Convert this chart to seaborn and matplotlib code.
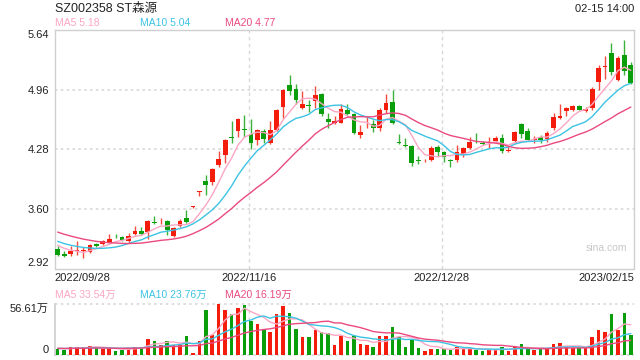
import numpy as np
import pandas as pd
import matplotlib
matplotlib.use("Agg")
import matplotlib.pyplot as plt
import seaborn as sns

# ---------------- data ----------------
title = "SZ002358 ST森源"
stamp = "02-15 14:00"
date_labels = ["2022/09/28", "2022/11/16", "2022/12/28", "2023/02/15"]
date_index = [0, 30, 60, 89]
price_ticks = [2.92, 3.60, 4.28, 4.96, 5.64]
vol_top = 56.61  # 万
ma_names = ["MA5", "MA10", "MA20"]
price_ma_last = [5.18, 5.04, 4.77]
vol_ma_last = [33.54, 23.76, 16.19]

opens = [3.147, 3.090, 3.082, 3.124, 3.120, 3.109, 3.203, 3.196, 3.222, 3.294,
         3.279, 3.230, 3.317, 3.351, 3.335, 3.445, 3.445, 3.460, 3.286, 3.400,
         3.494, 3.619, 3.789, 3.917, 3.910, 4.099, 4.216, 4.424, 4.488, 4.507,
         4.450, 4.382, 4.484, 4.348, 4.499, 4.764, 5.017, 4.968, 4.748, 4.782,
         4.828, 4.915, 4.628, 4.582, 4.582, 4.733, 4.677, 4.442, 4.563, 4.563,
         4.518, 4.722, 4.820, 4.363, 4.322, 4.318, 4.152, 4.152, 4.155, 4.310,
         4.254, 4.152, 4.155, 4.231, 4.299, 4.367, 4.348, 4.359, 4.374, 4.412,
         4.257, 4.374, 4.571, 4.488, 4.382, 4.420, 4.401, 4.526, 4.631, 4.714,
         4.733, 4.775, 4.714, 4.745, 5.043, 5.221, 5.376, 5.073, 5.353, 5.243]
highs = [3.173, 3.116, 3.177, 3.230, 3.165, 3.203, 3.215, 3.249, 3.309, 3.317,
         3.290, 3.328, 3.400, 3.392, 3.475, 3.517, 3.498, 3.468, 3.392, 3.479,
         3.589, 3.630, 3.802, 3.989, 4.065, 4.257, 4.393, 4.605, 4.631, 4.669,
         4.628, 4.507, 4.507, 4.601, 4.741, 4.968, 5.130, 5.028, 4.941, 4.839,
         4.998, 4.922, 4.688, 4.658, 4.798, 4.798, 4.696, 4.556, 4.647, 4.609,
         4.752, 4.911, 4.960, 4.458, 4.412, 4.329, 4.204, 4.167, 4.318, 4.329,
         4.261, 4.167, 4.329, 4.306, 4.420, 4.465, 4.374, 4.420, 4.431, 4.450,
         4.318, 4.488, 4.582, 4.518, 4.431, 4.439, 4.488, 4.696, 4.798, 4.764,
         4.790, 4.782, 4.767, 4.987, 5.236, 5.338, 5.489, 5.338, 5.523, 5.274]
lows = [3.060, 3.052, 3.063, 3.079, 3.041, 3.097, 3.162, 3.184, 3.211, 3.267,
        3.230, 3.215, 3.305, 3.305, 3.252, 3.426, 3.430, 3.298, 3.279, 3.392,
        3.434, 3.615, 3.743, 3.759, 3.876, 4.083, 4.121, 4.348, 4.424, 4.424,
        4.280, 4.325, 4.356, 4.337, 4.488, 4.639, 4.903, 4.798, 4.741, 4.703,
        4.752, 4.658, 4.526, 4.563, 4.575, 4.669, 4.458, 4.405, 4.526, 4.480,
        4.488, 4.696, 4.571, 4.344, 4.310, 4.087, 4.110, 4.140, 4.148, 4.204,
        4.129, 4.080, 4.140, 4.193, 4.280, 4.348, 4.329, 4.299, 4.356, 4.242,
        4.254, 4.367, 4.405, 4.382, 4.356, 4.348, 4.363, 4.495, 4.620, 4.658,
        4.714, 4.722, 4.703, 4.733, 4.960, 5.085, 5.130, 5.054, 5.130, 5.024]
closes = [3.071, 3.060, 3.116, 3.135, 3.125, 3.184, 3.173, 3.237, 3.256, 3.286,
          3.249, 3.290, 3.351, 3.317, 3.460, 3.437, 3.453, 3.354, 3.381, 3.464,
          3.449, 3.626, 3.800, 3.872, 4.053, 4.167, 4.386, 4.412, 4.620, 4.499,
          4.348, 4.495, 4.393, 4.495, 4.733, 4.960, 4.941, 4.839, 4.801, 4.775,
          4.903, 4.677, 4.590, 4.601, 4.741, 4.684, 4.461, 4.480, 4.571, 4.518,
          4.733, 4.809, 4.582, 4.356, 4.314, 4.118, 4.144, 4.159, 4.291, 4.254,
          4.186, 4.144, 4.250, 4.291, 4.367, 4.359, 4.340, 4.367, 4.405, 4.261,
          4.265, 4.480, 4.450, 4.390, 4.401, 4.382, 4.469, 4.647, 4.662, 4.745,
          4.775, 4.733, 4.741, 4.968, 5.206, 5.228, 5.157, 5.319, 5.168, 5.032]
# volume, 万股
volumes = [6.8, 5.7, 8.7, 9.4, 8.7, 10.2, 8.7, 6.4, 6.4, 4.9,
           5.7, 8.3, 9.4, 9.4, 18.1, 15.9, 11.3, 15.9, 11.3, 11.3,
           21.5, 2.6, 15.9, 49.8, 22.6, 56.61, 49.8, 45.3, 52.1, 56.0,
           37.7, 34.0, 29.1, 25.3, 45.3, 54.0, 46.4, 29.4, 19.6, 20.0,
           28.3, 25.3, 24.5, 11.3, 20.8, 15.1, 21.5, 12.5, 11.3, 9.1,
           20.8, 21.5, 30.9, 19.6, 9.4, 18.1, 8.3, 4.9, 7.2, 7.2,
           6.4, 5.7, 9.4, 6.8, 6.8, 5.7, 4.9, 5.7, 5.7, 9.1,
           4.9, 9.4, 12.5, 6.4, 5.7, 7.2, 7.2, 12.5, 13.2, 9.4,
           7.5, 7.5, 7.5, 20.4, 27.2, 26.0, 45.3, 27.2, 46.4, 22.6]
# sessions before the visible window (needed for the moving averages at the left edge)
prev_closes = [3.55, 3.52, 3.50, 3.47, 3.45, 3.42, 3.40, 3.38, 3.36, 3.35,
               3.32, 3.30, 3.27, 3.25, 3.24, 3.23, 3.22, 3.20, 3.20]
prev_volumes = [8.1, 7.4, 6.9, 7.8, 8.4, 7.2, 6.8, 7.6, 7.9, 7.1,
                6.6, 7.3, 8.0, 7.7, 6.9, 7.4, 7.8, 7.0, 7.5]
ma_windows = [5, 10, 20]

# ---------------- style ----------------
sns.set_theme(style="white")
plt.rcParams["font.family"] = ["Liberation Sans", "Noto Sans CJK SC", "DejaVu Sans"]

RED = "#f41d0b"
GREEN = "#0a9e0a"
MA_COLORS = ["#fba6c4", "#3cc3e3", "#ea4a7f"]
GRID = "#d8d8d8"
SPINE = "#cfcfcf"
TXT = "#222222"

n = len(closes)
idx = np.arange(n)
df = pd.DataFrame({"i": idx, "open": opens, "high": highs, "low": lows,
                   "close": closes, "vol": volumes})
up = df["close"] >= df["open"]
colors = np.where(up, RED, GREEN)

full_c = pd.Series(prev_closes + closes)
full_v = pd.Series(prev_volumes + volumes)
k = len(prev_closes)
for w in ma_windows:
    df[f"ma{w}"] = full_c.rolling(w).mean().values[k:]
    df[f"vma{w}"] = full_v.rolling(w).mean().values[k:]

W, H = 640, 360
fig = plt.figure(figsize=(W / 100, H / 100), dpi=100)
fig.patch.set_facecolor("white")
L, R = 54.5, 634.0
ax = fig.add_axes([L / W, 1 - 268.5 / H, (R - L) / W, (268.5 - 30) / H])
axv = fig.add_axes([L / W, 1 - 355 / H, (R - L) / W, (355 - 304) / H])

xlim = (-0.5, n - 0.5)
grid_x = [date_index[1] - 0.35, date_index[2] - 0.35]

# ---------------- price panel ----------------
ax.vlines(df["i"], df["low"], df["high"], colors=colors, linewidth=1.0, alpha=0.8, zorder=3)
body_h = np.maximum((df["close"] - df["open"]).abs(), 0.009)
body_b = np.minimum(df["open"], df["close"])
ax.bar(df["i"], body_h, bottom=body_b, width=0.74, color=colors, linewidth=0, zorder=4)
for w, c in zip(ma_windows, MA_COLORS):
    sns.lineplot(x=df["i"], y=df[f"ma{w}"], ax=ax, color=c, linewidth=1.0, zorder=5)

ax.set_xlim(*xlim)
ax.set_ylim(price_ticks[0], price_ticks[-1])
for y in price_ticks[1:-1]:
    ax.axhline(y, color=GRID, linewidth=1.2, linestyle=(0, (1.5, 2.0)), zorder=1)
for gx in grid_x:
    ax.axvline(gx, color=GRID, linewidth=1.0, linestyle=(0, (2.5, 2.5)), zorder=1)
ax.set_yticks(price_ticks)
ax.set_yticklabels([f"{t:.2f}" for t in price_ticks])
ax.tick_params(axis="y", length=0, pad=4, labelsize=8, labelcolor=TXT)
tl = ax.get_yticklabels()
tl[0].set_va("bottom")
tl[-1].set_va("top")
xt = [xlim[0], grid_x[0], grid_x[1], xlim[1]]
ax.set_xticks(xt)
ax.set_xticklabels(date_labels)
ax.tick_params(axis="x", length=0, pad=3, labelsize=8, labelcolor=TXT)
xl = ax.get_xticklabels()
xl[0].set_ha("left")
xl[-1].set_ha("right")
ax.set_xlabel("")
ax.set_ylabel("")
for s in ax.spines.values():
    s.set_color(SPINE)
    s.set_linewidth(1.0)
ax.text(0.988, 0.085, "sina.com", transform=ax.transAxes, ha="right", va="center",
        fontsize=7.5, color="#c8c8c8")

# ---------------- volume panel ----------------
axv.bar(df["i"], df["vol"], width=0.55, color=colors, linewidth=0, zorder=3)
for w, c in zip(ma_windows, MA_COLORS):
    sns.lineplot(x=df["i"], y=df[f"vma{w}"], ax=axv, color=c, linewidth=1.0, zorder=4)
axv.set_xlim(*xlim)
axv.set_ylim(0, vol_top)
axv.axhline(vol_top, color=GRID, linewidth=1.2, linestyle=(0, (1.5, 2.0)), zorder=1, clip_on=False)
axv.axhline(0, color=GRID, linewidth=1.2, linestyle=(0, (1.5, 2.0)), zorder=1, clip_on=False)
for gx in grid_x:
    axv.axvline(gx, color=GRID, linewidth=1.0, linestyle=(0, (2.5, 2.5)), zorder=1)
axv.set_yticks([0, vol_top])
axv.set_yticklabels(["0", f"{vol_top:.2f}万"])
axv.tick_params(axis="y", length=0, pad=4, labelsize=8, labelcolor=TXT)
vl = axv.get_yticklabels()
vl[0].set_va("bottom")
vl[1].set_va("top")
axv.set_xticks([])
axv.set_xlabel("")
axv.set_ylabel("")
for name, s in axv.spines.items():
    s.set_visible(name == "left")
    s.set_color(SPINE)

# ---------------- texts ----------------
fig.text(55 / W, 1 - 9 / H, title, ha="left", va="center", fontsize=9, color=TXT)
fig.text(634 / W, 1 - 9 / H, stamp, ha="right", va="center", fontsize=8, color=TXT)
leg_x = [55, 140, 225]
for x, nm, v, c in zip(leg_x, ma_names, price_ma_last, MA_COLORS):
    fig.text(x / W, 1 - 23.5 / H, f"{nm} {v:.2f}", ha="left", va="center", fontsize=7.5, color=c)
for x, nm, v, c in zip(leg_x, ma_names, vol_ma_last, MA_COLORS):
    fig.text(x / W, 1 - 295 / H, f"{nm} {v:.2f}万", ha="left", va="center", fontsize=7.5, color=c)

fig.savefig("out.png", dpi=100, facecolor="white")
